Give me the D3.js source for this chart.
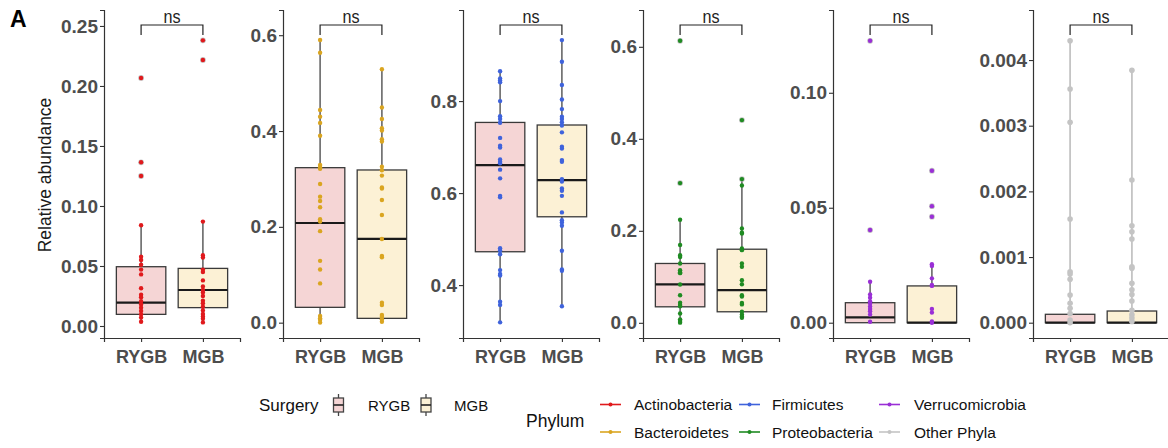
<!DOCTYPE html>
<html>
<head>
<meta charset="utf-8">
<script src="https://cdn.jsdelivr.net/npm/d3@7"></script>
<style>
  body { margin: 0; background: #fff; }
  svg text { font-family: "Liberation Sans", Arial, sans-serif; }
</style>
</head>
<body>
<div id="chart"></div>
<script>
// ---- data ----
const surgeries = ["RYGB", "MGB"];
const phyla = ["Actinobacteria", "Bacteroidetes", "Firmicutes", "Proteobacteria", "Verrucomicrobia", "Other Phyla"];
const phylumColors = ["#E0191C", "#DAA520", "#3F63DC", "#1F8B22", "#9A2FD6", "#C4C4C4"];
const surgeryFills = ["#F5D5D5", "#FCF1D5"];

const yDomains = [[-0.0100, 0.2633], [-0.032, 0.6526], [0.285, 0.998], [-0.033, 0.680], [-0.00665, 0.136], [-0.000233, 0.004762]];
const yTicks = [
  [0, 0.05, 0.10, 0.15, 0.20, 0.25],
  [0, 0.2, 0.4, 0.6],
  [0.4, 0.6, 0.8],
  [0, 0.2, 0.4, 0.6],
  [0, 0.05, 0.10],
  [0, 0.001, 0.002, 0.003, 0.004]
];
const tickFormats = [".2f", ".1f", ".1f", ".1f", ".2f", ".3f"];

// box stats: [lower whisker, q1, median, q3, upper whisker]
const rygbBox = [
  [0.0036, 0.0097, 0.0194, 0.0494, 0.0839],
  [0.0005, 0.032, 0.208, 0.3235, 0.590],
  [0.319, 0.4725, 0.661, 0.7536, 0.865],
  [0.0004, 0.0348, 0.0835, 0.129, 0.224],
  [0.0, 0.0, 0.0023, 0.0087, 0.0178],
  [0.0, 0.0, 0.0, 0.000128, 0.004294]
];
const mgbBox = [
  [0.003, 0.0153, 0.030, 0.048, 0.087],
  [0.002, 0.009, 0.1747, 0.3187, 0.529],
  [0.354, 0.5485, 0.628, 0.748, 0.933],
  [0.011, 0.024, 0.071, 0.160, 0.312],
  [0.0, 0.0, 0.0, 0.016, 0.0254],
  [0.0, 0.0, 0.0, 0.000178, 0.003844]
];

const rygbPoints = [
  [0.2067, 0.1364, 0.125, 0.0839, 0.0578, 0.055, 0.051, 0.047, 0.043, 0.0314, 0.026, 0.024, 0.0206, 0.018, 0.0153, 0.0125, 0.0097, 0.007, 0.0036],
  [0.590, 0.5635, 0.444, 0.430, 0.417, 0.390, 0.329, 0.324, 0.321, 0.2894, 0.263, 0.254, 0.241, 0.216, 0.211, 0.191, 0.129, 0.111, 0.082, 0.014, 0.009, 0.006, 0.0005],
  [0.865, 0.849, 0.845, 0.8407, 0.800, 0.767, 0.761, 0.753, 0.720, 0.703, 0.699, 0.673, 0.668, 0.665, 0.651, 0.632, 0.594, 0.591, 0.480, 0.475, 0.467, 0.4326, 0.424, 0.421, 0.364, 0.357, 0.319],
  [0.613, 0.3037, 0.224, 0.169, 0.147, 0.143, 0.129, 0.1145, 0.110, 0.108, 0.0834, 0.060, 0.0435, 0.039, 0.036, 0.0204, 0.0075, 0.004, 0.0004],
  [0.1226, 0.0403, 0.0178, 0.0123, 0.0109, 0.0093, 0.0083, 0.0071, 0.006, 0.005, 0.0036, 0.0004],
  [0.004294, 0.003559, 0.003052, 0.001579, 0.000777, 0.00074, 0.00066, 0.00042, 0.000295, 0.00022, 0.00014, 0.00004, 0.0]
];
const mgbPoints = [
  [0.238, 0.2217, 0.087, 0.059, 0.057, 0.047, 0.045, 0.038, 0.033, 0.030, 0.028, 0.025, 0.021, 0.019, 0.016, 0.013, 0.010, 0.008, 0.006, 0.003],
  [0.529, 0.449, 0.425, 0.406, 0.401, 0.383, 0.378, 0.3255, 0.318, 0.307, 0.282, 0.280, 0.256, 0.2248, 0.1747, 0.139, 0.1366, 0.0418, 0.037, 0.016, 0.0125, 0.007, 0.002],
  [0.9326, 0.8855, 0.835, 0.8036, 0.7826, 0.766, 0.761, 0.754, 0.747, 0.732, 0.7007, 0.697, 0.6717, 0.668, 0.6304, 0.625, 0.610, 0.605, 0.594, 0.558, 0.541, 0.536, 0.529, 0.4746, 0.434, 0.431, 0.354],
  [0.4407, 0.3124, 0.2986, 0.205, 0.196, 0.194, 0.1617, 0.158, 0.129, 0.122, 0.0928, 0.084, 0.060, 0.057, 0.043, 0.040, 0.024, 0.018, 0.014, 0.011],
  [0.0661, 0.0507, 0.0461, 0.0254, 0.0247, 0.0193, 0.0164, 0.016, 0.006, 0.0044, 0.0006, 0.0],
  [0.003844, 0.002173, 0.001477, 0.001386, 0.001275, 0.000853, 0.00083, 0.0006, 0.0005, 0.00043, 0.00033, 0.00019, 0.00012, 0.00007, 0.00002]
];
const testLabel = "ns";

// ---- layout ----
const width = 1168, height = 448;
const plotLefts = [104, 283, 463, 643, 833, 1033];
const plotW = 136, plotTop = 10, plotBottom = 338;
const axisColor = "#333333", tickTextColor = "#4D4D4D";

const svg = d3.select("#chart").append("svg")
  .attr("width", width).attr("height", height);

svg.append("text")
  .attr("x", 10).attr("y", 27)
  .attr("font-size", "23px").attr("font-weight", "bold")
  .text("A");

svg.append("text")
  .attr("transform", `translate(51, 175) rotate(-90)`)
  .attr("text-anchor", "middle")
  .attr("font-size", "17.5px")
  .attr("fill", "#1a1a1a")
  .text("Relative abundance");

phyla.forEach((phylum, i) => {
  const g = svg.append("g").attr("transform", `translate(${plotLefts[i]},0)`);
  const x = d3.scalePoint().domain(surgeries).range([0, plotW]).padding(0.6);
  const y = d3.scaleLinear().domain(yDomains[i]).range([plotBottom, plotTop]);
  const bw = x.step() * 0.8;
  const col = phylumColors[i];
  const isOther = phylum === "Other Phyla";

  const groups = surgeries.map((s, k) => ({
    surgery: s,
    fill: surgeryFills[k],
    box: (k === 0 ? rygbBox : mgbBox)[i],
    points: (k === 0 ? rygbPoints : mgbPoints)[i]
  }));

  // whiskers
  groups.forEach(d => {
    const cx = x(d.surgery);
    const wc = isOther ? col : "#444", ww = isOther ? 1.8 : 1.3;
    g.append("line")
      .attr("x1", cx).attr("x2", cx)
      .attr("y1", y(d.box[3])).attr("y2", y(d.box[4]))
      .attr("stroke", wc).attr("stroke-width", ww);
    g.append("line")
      .attr("x1", cx).attr("x2", cx)
      .attr("y1", y(d.box[1])).attr("y2", y(d.box[0]))
      .attr("stroke", wc).attr("stroke-width", ww);
  });

  // boxes
  groups.forEach(d => {
    const cx = x(d.surgery);
    g.append("rect")
      .attr("x", cx - bw / 2).attr("width", bw)
      .attr("y", y(d.box[3])).attr("height", Math.max(1, y(d.box[1]) - y(d.box[3])))
      .attr("fill", d.fill).attr("stroke", "#3a3a3a").attr("stroke-width", 1.3);
    g.append("line")
      .attr("x1", cx - bw / 2).attr("x2", cx + bw / 2)
      .attr("y1", y(d.box[2])).attr("y2", y(d.box[2]))
      .attr("stroke", "#1a1a1a").attr("stroke-width", 2.2);
  });

  // outlier halos + points
  groups.forEach(d => {
    const cx = x(d.surgery);
    if (!isOther) {
      g.selectAll(null)
        .data(d.points.filter(v => v > d.box[4] + 1e-9 || v < d.box[0] - 1e-9))
        .enter().append("circle")
        .attr("cx", cx).attr("cy", v => y(v)).attr("r", 2.9)
        .attr("fill", "#aaaaaa").attr("opacity", 0.7);
    }
    g.selectAll(null)
      .data(d.points)
      .enter().append("circle")
      .attr("cx", cx).attr("cy", v => y(v))
      .attr("r", isOther ? 2.8 : 2.2)
      .attr("fill", col);
  });

  // axes
  const yAxis = g.append("g")
    .call(d3.axisLeft(y).tickValues(yTicks[i]).tickFormat(d3.format(tickFormats[i])).tickSizeOuter(0).tickSize(4).tickPadding(2));
  const xAxis = g.append("g")
    .attr("transform", `translate(0,${plotBottom})`)
    .call(d3.axisBottom(x).tickSizeOuter(0).tickSize(4).tickPadding(4));
  [yAxis, xAxis].forEach(a => {
    a.select(".domain").attr("stroke", axisColor).attr("stroke-width", 1.2);
    a.selectAll(".tick line").attr("stroke", axisColor).attr("stroke-width", 1.1);
    a.selectAll(".tick text")
      .attr("fill", tickTextColor)
      .attr("font-weight", "bold")
      .attr("font-family", "Liberation Sans, Arial, sans-serif");
  });
  yAxis.selectAll(".tick text").attr("font-size", "19px");
  xAxis.selectAll(".tick text").attr("font-size", "18px").attr("dy", "0.95em");

  // significance bracket
  const bY = plotTop + 15;
  const x1 = x(surgeries[0]), x2 = x(surgeries[1]);
  g.append("path")
    .attr("d", `M${x1},${bY + 10}V${bY}H${x2}V${bY + 10}`)
    .attr("fill", "none").attr("stroke", "#222").attr("stroke-width", 1.2);
  g.append("text")
    .attr("transform", `translate(${(x1 + x2) / 2},${bY - 2}) scale(0.85,1)`)
    .attr("text-anchor", "middle")
    .attr("font-size", "19px").attr("fill", "#222")
    .text(testLabel);
});

// ---- legend ----
const leg = svg.append("g").attr("class", "legend");
function legText(x, y, txt, size) {
  return leg.append("text")
    .attr("x", x).attr("y", y)
    .attr("font-size", size).attr("fill", "#111")
    .text(txt);
}

legText(259, 411, "Surgery", "17px");
const surgKeyX = [338.5, 426];
const surgLabX = [368, 454];
surgeries.forEach((s, k) => {
  const cx = surgKeyX[k];
  leg.append("line").attr("x1", cx).attr("x2", cx).attr("y1", 394).attr("y2", 416)
    .attr("stroke", "#444").attr("stroke-width", 1.3);
  leg.append("rect").attr("x", cx - 5).attr("y", 398).attr("width", 10).attr("height", 14)
    .attr("fill", surgeryFills[k]).attr("stroke", "#444").attr("stroke-width", 1.3);
  leg.append("line").attr("x1", cx - 5).attr("x2", cx + 5).attr("y1", 405).attr("y2", 405)
    .attr("stroke", "#222").attr("stroke-width", 1.6);
  legText(surgLabX[k], 410.5, s, "15px");
});

legText(526, 427, "Phylum", "17.5px");
const colLineX = [600, 739, 879];
const colTextX = [634, 772, 914];
const rowY = [404.5, 432];
phyla.forEach((p, i) => {
  const c = Math.floor(i / 2), r = i % 2;
  const lx = colLineX[c], ly = rowY[r];
  leg.append("line").attr("x1", lx).attr("x2", lx + 21).attr("y1", ly).attr("y2", ly)
    .attr("stroke", phylumColors[i]).attr("stroke-width", 1.6);
  leg.append("circle").attr("cx", lx + 10.5).attr("cy", ly).attr("r", 2).attr("fill", phylumColors[i]);
  legText(colTextX[c], ly + 5.5, p, "15.5px");
});
</script>
</body>
</html>
